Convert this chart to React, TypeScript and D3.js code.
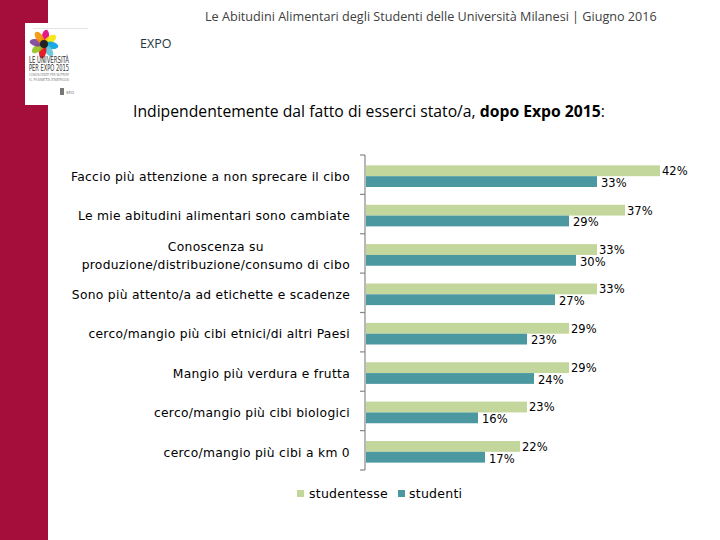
import React, { useEffect, useRef } from "react";
import * as d3 from "d3";

const categories: string[][] = [
  ["Faccio più attenzione a non sprecare il cibo"],
  ["Le mie abitudini alimentari sono cambiate"],
  ["Conoscenza su", "produzione/distribuzione/consumo di cibo"],
  ["Sono più attento/a ad etichette e scadenze"],
  ["cerco/mangio più cibi etnici/di altri Paesi"],
  ["Mangio più verdura e frutta"],
  ["cerco/mangio più cibi biologici"],
  ["cerco/mangio più cibi a km 0"],
];
const studentesse = [42, 37, 33, 33, 29, 29, 23, 22];
const studenti = [33, 29, 30, 27, 23, 24, 16, 17];
const seriesNames = ["studentesse", "studenti"];
const seriesColors = ["#c3d69b", "#4b98a0"];

const headerText = "Le Abitudini Alimentari degli Studenti delle Università Milanesi |  Giugno 2016";
const sectionText = "EXPO";
const titleNormal = "Indipendentemente dal fatto di esserci stato/a, ";
const titleBold = "dopo Expo 2015";
const titleEnd = ":";

const petalColors = ["#e4007c", "#f4e500", "#00a0e0", "#5bc5d9", "#e30613", "#94c11f", "#7a3f98", "#f39200"];

export default function App() {
  const ref = useRef<SVGSVGElement>(null);

  useEffect(() => {
    const svg = d3.select(ref.current);
    svg.selectAll("*").remove();
    const H = 540;

    // sidebar
    svg.append("rect").attr("x", 0).attr("y", 0).attr("width", 48).attr("height", H).attr("fill", "#a50d3b");
    // logo box
    const logo = svg.append("g");
    logo.append("rect").attr("x", 25).attr("y", 23).attr("width", 66).attr("height", 82).attr("fill", "#ffffff");
    logo.append("line").attr("x1", 33).attr("x2", 88).attr("y1", 28.5).attr("y2", 28.5).attr("stroke", "#ddd").attr("stroke-width", 0.8);
    const cx = 44, cy = 44;
    petalColors.forEach((c, i) => {
      const a = (i * 360) / petalColors.length + 10;
      logo.append("ellipse").attr("cx", cx).attr("cy", cy - 7.5).attr("rx", 3.6).attr("ry", 7)
        .attr("fill", c).attr("opacity", 0.9).attr("transform", `rotate(${a},${cx},${cy})`);
    });
    logo.append("circle").attr("cx", cx).attr("cy", cy).attr("r", 4).attr("fill", "#222");
    const lt = [
      { t: "LE UNIVERSITÀ", y: 63, s: 8, c: "#333" },
      { t: "PER EXPO 2015", y: 70.5, s: 8, c: "#333" },
      { t: "CONOSCENZE PER NUTRIRE", y: 76, s: 4, c: "#888" },
      { t: "IL PIANETA ENERGIA", y: 80.5, s: 4, c: "#888" },
    ];
    lt.forEach((d) => {
      logo.append("text").attr("x", 29).attr("y", d.y).attr("font-family", "DejaVu Sans Condensed, DejaVu Sans")
        .attr("font-size", d.s).attr("fill", d.c).attr("textLength", 40).attr("lengthAdjust", "spacingAndGlyphs").text(d.t);
    });
    logo.append("rect").attr("x", 60).attr("y", 88).attr("width", 4).attr("height", 7).attr("fill", "#777");
    logo.append("text").attr("x", 66).attr("y", 94).attr("font-size", 4).attr("fill", "#777").attr("font-family", "DejaVu Sans").text("SEG");

    // header
    const hdr = svg.append("text").attr("x", 205).attr("y", 21).attr("font-family", "Open Sans")
      .attr("font-size", 12).attr("fill", "#404040").text(headerText);
    const hw = (hdr.node() as SVGTextElement).getComputedTextLength();
    hdr.attr("font-size", 12 * 452 / hw);

    svg.append("text").attr("x", 140).attr("y", 48).attr("font-family", "Open Sans").attr("font-size", 12.5)
      .attr("fill", "#25353d").text(sectionText);

    // title
    const title = svg.append("text").attr("x", 133).attr("y", 117).attr("font-family", "Open Sans")
      .attr("font-size", 18).attr("fill", "#000");
    title.append("tspan").text(titleNormal);
    title.append("tspan").attr("font-weight", "bold").text(titleBold);
    title.append("tspan").text(titleEnd);
    const tw = (title.node() as SVGTextElement).getComputedTextLength();
    title.attr("font-size", 18 * 472 / tw);

    // chart
    const x = d3.scaleLinear().domain([0, 50]).range([366, 716]);
    const y = d3.scaleBand<number>().domain(d3.range(categories.length)).range([155, 470]).paddingInner(0).paddingOuter(0);
    const sub = d3.scaleBand<number>().domain([0, 1]).range([0, y.bandwidth()]).paddingInner(0).paddingOuter(0.82);
    const series = [studentesse, studenti];

    const g = svg.append("g");
    series.forEach((vals, si) => {
      g.selectAll(`rect.s${si}`).data(vals).enter().append("rect")
        .attr("x", x(0))
        .attr("y", (_, i) => (y(i) as number) + (sub(si) as number) + 1.5)
        .attr("width", (d) => x(d) - x(0))
        .attr("height", sub.bandwidth())
        .attr("fill", seriesColors[si]);
      g.selectAll(`text.l${si}`).data(vals).enter().append("text")
        .attr("x", (d) => x(d) + (si === 0 ? 2 : 4))
        .attr("y", (_, i) => (y(i) as number) + (sub(si) as number) + 1.5 + sub.bandwidth() / 2 + (si === 0 ? 0 : 1))
        .attr("dy", "0.38em")
        .attr("font-family", "DejaVu Sans")
        .attr("font-size", 11.5)
        .attr("fill", "#000")
        .text((d) => `${d}%`);
    });

    // axis
    const axisX = 365;
    svg.append("line").attr("x1", axisX).attr("x2", axisX).attr("y1", 155).attr("y2", 470).attr("stroke", "#888").attr("stroke-width", 1.2);
    const bounds = d3.range(categories.length + 1).map((i) => 155 + i * y.step());
    svg.selectAll("line.tick").data(bounds).enter().append("line")
      .attr("x1", axisX - 5).attr("x2", axisX).attr("y1", (d) => d).attr("y2", (d) => d)
      .attr("stroke", "#888").attr("stroke-width", 1.2);

    // category labels
    const labelRight = 350;
    categories.forEach((lines, i) => {
      const c = (y(i) as number) + y.bandwidth() / 2 + 2;
      const lh = 18;
      const texts = lines.map((ln, k) =>
        svg.append("text").attr("x", labelRight).attr("y", c + (k - (lines.length - 1) / 2) * lh)
          .attr("dy", "0.35em").attr("text-anchor", "end").attr("font-family", "DejaVu Sans")
          .attr("font-size", 12.3).attr("letter-spacing", 0.3).attr("fill", "#000").text(ln));
      if (lines.length > 1) {
        const widths = texts.map((t) => (t.node() as SVGTextElement).getComputedTextLength());
        const mw = Math.max(...widths);
        const center = labelRight - mw / 2;
        texts.forEach((t) => t.attr("x", center).attr("text-anchor", "middle"));
      }
    });

    // legend
    const legendItems = [
      { sq: 297, tx: 309 },
      { sq: 398, tx: 409 },
    ];
    legendItems.forEach((p, i) => {
      svg.append("rect").attr("x", p.sq).attr("y", 490).attr("width", 7).attr("height", 7).attr("fill", seriesColors[i]);
      svg.append("text").attr("x", p.tx).attr("y", 494).attr("dy", "0.35em").attr("font-family", "DejaVu Sans")
        .attr("font-size", 12.5).attr("letter-spacing", 0.25).attr("fill", "#000").text(seriesNames[i]);
    });
  }, []);

  return (
    <svg ref={ref} width={720} height={540} style={{ position: "absolute", left: 0, top: 0, background: "#fff" }} />
  );
}
